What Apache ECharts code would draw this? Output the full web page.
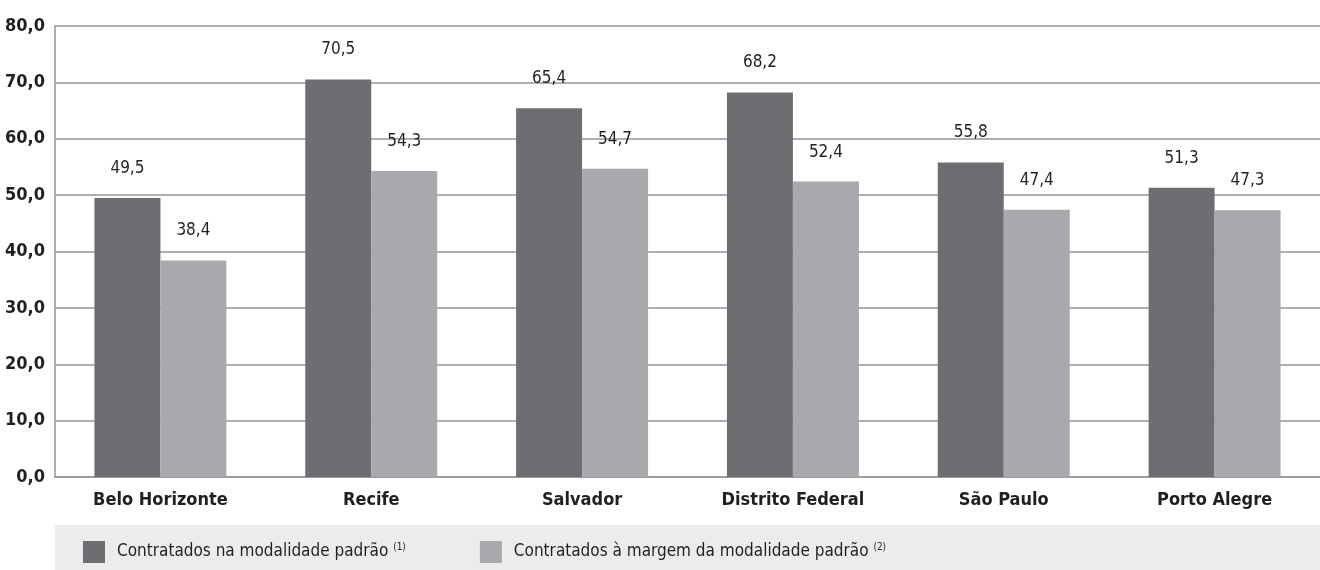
<!DOCTYPE html>
<html><head><meta charset="utf-8">
<script src="https://cdn.jsdelivr.net/npm/echarts@6/dist/echarts.min.js"></script>
<style>html,body{margin:0;padding:0;background:#fff}#c{width:1320px;height:570px}</style>
</head><body><div id="c"></div>
<script>
const categories = ['Belo Horizonte','Recife','Salvador','Distrito Federal','São Paulo','Porto Alegre'];
const padrao = [49.5, 70.5, 65.4, 68.2, 55.8, 51.3];
const margem = [38.4, 54.3, 54.7, 52.4, 47.4, 47.3];
const seriesNames = ['Contratados na modalidade padrão', 'Contratados à margem da modalidade padrão'];
const seriesNotes = ['(1)', '(2)'];
const FONT = '"Liberation Sans Narrow", "DejaVu Sans Condensed", "Roboto Condensed", sans-serif';
const fmt = v => v.toFixed(1).replace('.', ',');
const chart = echarts.init(document.getElementById('c'));
const lbl = {show:true, position:'top', distance:21, fontFamily:FONT, fontSize:17, color:'#231f20', formatter:p=>fmt(p.value)};
chart.setOption({
  animation:false,
  textStyle:{fontFamily:FONT},
  graphic:[{type:'rect', left:55, top:525, shape:{width:1265, height:45}, style:{fill:'#ececed'}, z:-1}],
  grid:{left:55, right:0, top:26, bottom:93, containLabel:false},
  legend:{left:78, top:536, itemWidth:22, itemHeight:22, itemGap:74, icon:'rect',
    textStyle:{fontFamily:FONT, fontSize:17, color:'#231f20', padding:[0,0,0,7], rich:{sup:{fontSize:10, verticalAlign:'top', padding:[0,0,10,0], color:'#231f20', fontFamily:FONT}}},
    formatter: n => n + ' {sup|' + seriesNotes[seriesNames.indexOf(n)] + '}',
    data: seriesNames},
  xAxis:{type:'category', data:categories,
    axisLine:{lineStyle:{color:'#939598', width:1.5}}, axisTick:{show:false},
    axisLabel:{fontFamily:FONT, fontWeight:'bold', fontSize:18, color:'#231f20', margin:14}},
  yAxis:{type:'value', min:0, max:80, interval:10,
    axisLine:{show:true, lineStyle:{color:'#939598', width:1.5}}, axisTick:{show:false},
    splitLine:{lineStyle:{color:'#939598', width:1.5}},
    axisLabel:{fontFamily:FONT, fontWeight:'bold', fontSize:18, color:'#231f20', margin:10, formatter:v=>fmt(v)}},
  series:[
    {name:seriesNames[0], type:'bar', data:padrao, barGap:'0%', barCategoryGap:'37.4%', itemStyle:{color:'#6d6e71'}, label:lbl},
    {name:seriesNames[1], type:'bar', data:margem, itemStyle:{color:'#a7a9ac'}, label:lbl}
  ]
});
</script></body></html>
